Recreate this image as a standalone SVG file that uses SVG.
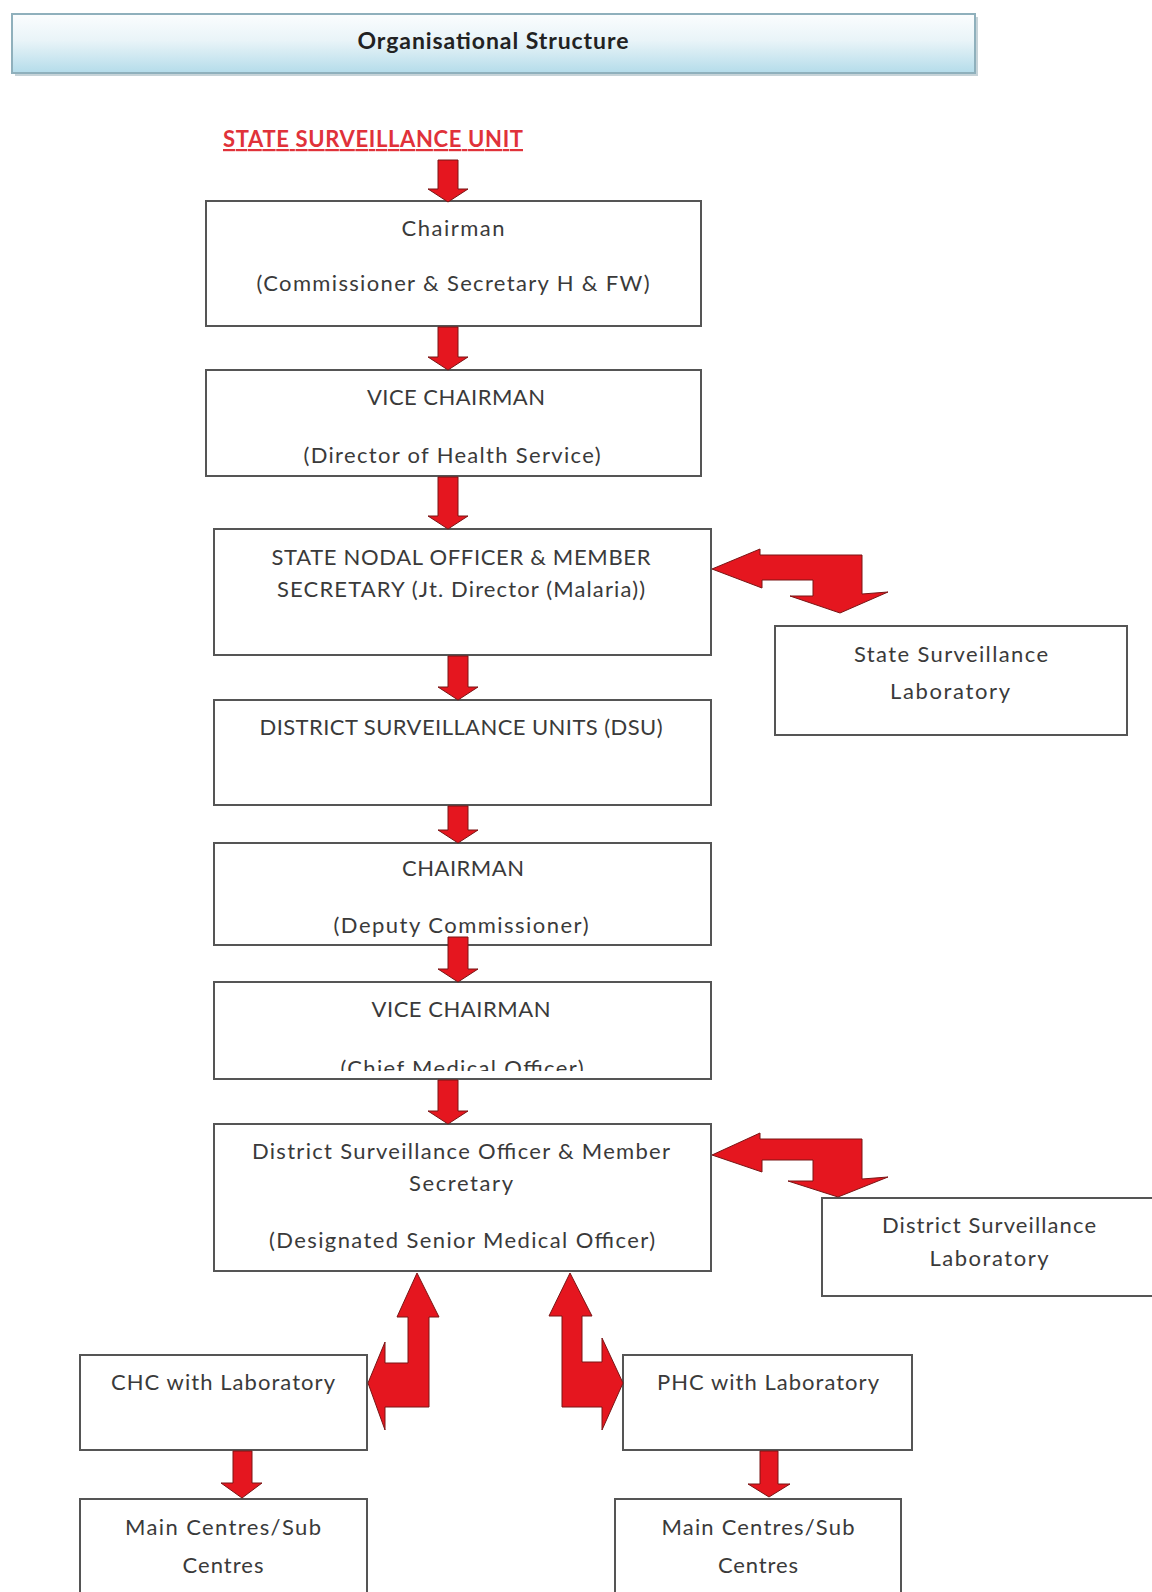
<svg xmlns="http://www.w3.org/2000/svg" width="1152" height="1592" viewBox="0 0 1152 1592">
<defs>
<linearGradient id="tg" x1="0" y1="0" x2="0" y2="1">
<stop offset="0" stop-color="#fbfdfe"/>
<stop offset="0.45" stop-color="#e9f4f8"/>
<stop offset="1" stop-color="#b4dcea"/>
</linearGradient>
<clipPath id="clipCMO"><rect x="214" y="1040" width="497" height="31"/></clipPath>
</defs>
<style>
.box{fill:#fff;stroke:#555;stroke-width:2}
.t{font-family:Lato,"Open Sans","Liberation Sans",sans-serif;font-size:22px;fill:#3a3a3a;text-anchor:middle}
.arr{fill:#e5161f;stroke:#7a1515;stroke-width:1;stroke-linejoin:miter}
</style>
<rect width="1152" height="1592" fill="#fff"/>

<g id="title">
<rect x="15" y="17" width="963" height="59" fill="#c6d3d8"/>
<rect x="12" y="14" width="963" height="59" fill="url(#tg)" stroke="#8fb0bc" stroke-width="2"/>
<text class="t" x="493" y="49" style="font-weight:bold;fill:#222;font-size:23px" textLength="271">Organisational Structure</text>
</g>

<g id="ssu">
<text class="t" x="373" y="147" style="font-weight:bold;fill:#e0323a;text-decoration:underline" textLength="300">STATE SURVEILLANCE UNIT</text>
</g>

<g id="chairman">
<rect class="box" x="206" y="201" width="495" height="125"/>
<text class="t" x="453" y="236" textLength="103">Chairman</text>
<text class="t" x="453" y="291" textLength="393">(Commissioner &amp; Secretary H &amp; FW)</text>
</g>

<g id="vice-chairman">
<rect class="box" x="206" y="370" width="495" height="106"/>
<text class="t" x="456" y="405" textLength="178">VICE CHAIRMAN</text>
<text class="t" x="452" y="463" textLength="297">(Director of Health Service)</text>
</g>

<g id="nodal-officer">
<rect class="box" x="214" y="529" width="497" height="126"/>
<text class="t" x="461" y="565" textLength="379">STATE NODAL OFFICER &amp; MEMBER</text>
<text class="t" x="461" y="597" textLength="368">SECRETARY (Jt. Director (Malaria))</text>
</g>

<g id="state-lab">
<rect class="box" x="775" y="626" width="352" height="109"/>
<text class="t" x="951" y="662" textLength="194">State Surveillance</text>
<text class="t" x="950" y="699" textLength="120">Laboratory</text>
</g>

<g id="dsu">
<rect class="box" x="214" y="700" width="497" height="105"/>
<text class="t" x="461" y="735" textLength="403">DISTRICT SURVEILLANCE UNITS (DSU)</text>
</g>

<g id="district-chairman">
<rect class="box" x="214" y="843" width="497" height="102"/>
<text class="t" x="463" y="876" textLength="122">CHAIRMAN</text>
<text class="t" x="461" y="933" textLength="255">(Deputy Commissioner)</text>
</g>

<g id="district-vice-chairman">
<rect class="box" x="214" y="982" width="497" height="97"/>
<text class="t" x="461" y="1017" textLength="179">VICE CHAIRMAN</text>
<text class="t" x="462" y="1076" textLength="243" clip-path="url(#clipCMO)">(Chief Medical Officer)</text>
</g>

<g id="dso">
<rect class="box" x="214" y="1124" width="497" height="147"/>
<text class="t" x="461" y="1159" textLength="418">District Surveillance Officer &amp; Member</text>
<text class="t" x="461" y="1191" textLength="104">Secretary</text>
<text class="t" x="462" y="1248" textLength="386">(Designated Senior Medical Officer)</text>
</g>

<g id="district-lab">
<rect class="box" x="822" y="1198" width="340" height="98"/>
<text class="t" x="989" y="1233" textLength="214">District Surveillance</text>
<text class="t" x="989" y="1266" textLength="119">Laboratory</text>
</g>

<g id="chc">
<rect class="box" x="80" y="1355" width="287" height="95"/>
<text class="t" x="223" y="1390" textLength="224">CHC with Laboratory</text>
</g>

<g id="phc">
<rect class="box" x="623" y="1355" width="289" height="95"/>
<text class="t" x="768" y="1390" textLength="222">PHC with Laboratory</text>
</g>

<g id="main-left">
<rect class="box" x="80" y="1499" width="287" height="110"/>
<text class="t" x="223" y="1535" textLength="196">Main Centres/Sub</text>
<text class="t" x="223" y="1573" textLength="81">Centres</text>
</g>

<g id="main-right">
<rect class="box" x="615" y="1499" width="286" height="110"/>
<text class="t" x="758" y="1535" textLength="193">Main Centres/Sub</text>
<text class="t" x="758" y="1573" textLength="80">Centres</text>
</g>

<g id="connectors">
<polygon class="arr" points="438,160 458,160 458,189 468,189 448,202 428,189 438,189"/>
<polygon class="arr" points="438,327 458,327 458,357 468,357 448,370 428,357 438,357"/>
<polygon class="arr" points="438,477 458,477 458,516 468,516 448,529 428,516 438,516"/>
<polygon class="arr" points="448,656 468,656 468,687 478,687 458,700 438,687 448,687"/>
<polygon class="arr" points="448,806 468,806 468,830 478,830 458,843 438,830 448,830"/>
<polygon class="arr" points="448,937 468,937 468,969 478,969 458,982 438,969 448,969"/>
<polygon class="arr" points="438,1080 458,1080 458,1111 468,1111 448,1124 428,1111 438,1111"/>
<polygon class="arr" points="233,1451 252,1451 252,1483 262,1483 242,1498 221,1483 233,1483"/>
<polygon class="arr" points="760,1451 778,1451 778,1484 790,1484 769,1497 748,1484 760,1484"/>
<polygon class="arr" points="712,569 760,549 760,555 862,555 862,594 888,592 840,613 790,596 813,596 813,580 762,580 762,588"/>
<polygon class="arr" points="712,1155 760,1133 760,1139 862,1139 862,1179 888,1177 838,1197 788,1181 813,1181 813,1160 762,1160 762,1172"/>
<polygon class="arr" points="417,1273 439,1317 429,1317 429,1407 385,1407 385,1430 368,1383 385,1342 385,1363 408,1363 408,1317 397,1317"/>
<polygon class="arr" points="570,1273 592,1316 582,1316 582,1362 602,1362 602,1338 623,1383 602,1430 602,1407 562,1407 562,1316 549,1316"/>
</g>
</svg>
